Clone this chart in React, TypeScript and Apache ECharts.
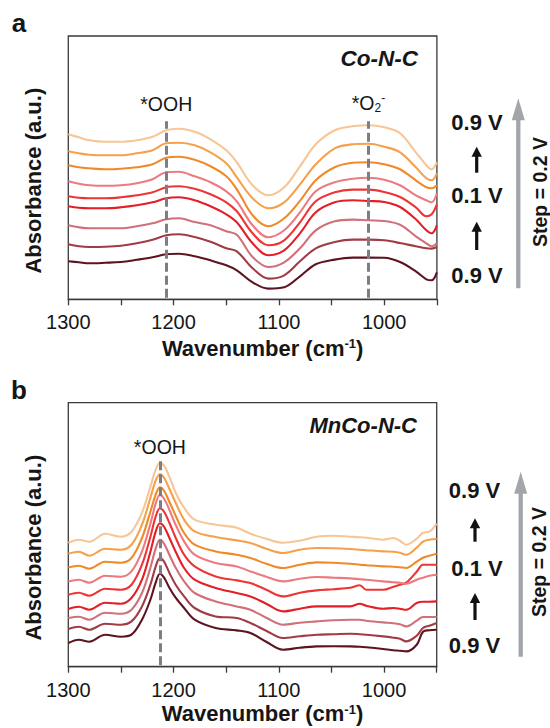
import React, { useEffect, useRef } from "react";
import * as echarts from "echarts";

const FONT = '"Liberation Sans", Arial, Helvetica, sans-serif';
const INK = "#161616";

// ---------- Panel a: Co-N-C ----------
const wavenumbersA = [1300, 1290, 1280, 1265, 1250, 1235, 1220, 1207, 1195, 1180, 1165, 1150, 1140, 1125, 1110, 1095, 1080, 1065, 1047, 1030, 1015, 1000, 985, 970, 960, 955, 950];
const coNC_0p9V_start = [38, 37, 36, 36.5, 37.3, 39.5, 42, 45, 45.5, 43, 39, 34, 29, 17, 10.7, 12, 23, 35, 39.7, 41.7, 41.7, 41.5, 37.3, 28, 20, 19, 27];
const coNC_0p7V_down = [55, 53, 52.3, 52.5, 53.5, 56, 59.5, 64, 65, 62.3, 57.5, 51, 48, 31, 20.7, 24, 38, 51, 57.3, 59.7, 59.7, 59, 56.3, 53, 51, 50.7, 52.3];
const coNC_0p5V_down = [74, 72, 71, 71, 71, 73, 76, 80, 81, 77.3, 74, 68, 64.5, 42.3, 32.3, 37, 51, 69, 78, 79.7, 79, 78.3, 74.5, 63, 56, 53, 56];
const coNC_0p3V_down = [93, 91.5, 91, 91, 92, 94, 97, 101, 102, 99, 93, 85, 77, 56, 44, 49, 66, 87, 97, 99, 98.3, 97.3, 92.3, 80, 69, 66, 74];
const coNC_0p1V = [103, 101.5, 101, 101, 102, 104, 107, 112, 113, 110.5, 105, 97, 88, 66, 54, 59, 77, 98, 107, 109.7, 109.7, 107.3, 102.3, 92, 83, 85, 95];
const coNC_0p3V_up = [118, 115.5, 114, 113.5, 114, 116, 120, 127, 127.5, 123, 117, 108, 98, 74, 62, 69, 87, 108, 117, 120.5, 121.5, 119.5, 114, 104, 99, 97, 106];
const coNC_0p5V_up = [134, 132, 131, 130, 130.5, 132, 135, 141.5, 142.5, 139.5, 133, 123, 110, 84, 73, 81, 98.5, 119, 132, 136.5, 137, 135, 130, 119, 112, 111, 114];
const coNC_0p7V_up = [148, 146, 144.5, 144, 144, 146, 149, 156, 156.5, 154, 147, 136, 122, 101, 91, 97, 115, 135, 151, 155, 155.5, 152.5, 147, 132, 121, 119, 126];
const coNC_0p9V_end = [165, 162, 159, 157.5, 157.5, 159, 162.5, 169, 170.5, 167.5, 160, 149, 137, 114, 104, 112, 133, 155, 169, 173, 174, 172, 166, 147, 134, 130, 137];
const peaksA = [
  { w: 1207, label: "*OOH" },
  { w: 1015, label: "*O{sub|2}{sup|-}" },
];

// ---------- Panel b: MnCo-N-C ----------
const wavenumbersB = [1300, 1290, 1280, 1265, 1250, 1240, 1230, 1222, 1217, 1213, 1209, 1204, 1198, 1190, 1180, 1160, 1140, 1127, 1112, 1096, 1080, 1064, 1048, 1032, 1023, 1017, 1001, 991, 985, 979, 969, 963, 957, 950];
const mnCoNC_0p9V_start = [23.7, 27, 25, 32, 30, 32, 47, 67, 84, 93, 89, 79, 69, 58.7, 47, 38.7, 36.3, 33.7, 25, 17, 19, 20.3, 20.5, 20.3, 20, 19.5, 17.7, 16.5, 16, 15.3, 22, 35, 36.5, 37];
const mnCoNC_0p7V_down = [37.7, 40, 37, 43, 42, 45.3, 60.3, 82, 100, 108.7, 105, 94, 82, 70.3, 58.7, 50.3, 48.7, 43.7, 36, 28.7, 30.5, 32, 32.5, 33, 32.5, 32, 30.3, 29, 28, 25.3, 31, 38.7, 41, 43.7];
const mnCoNC_0p5V_down = [48.7, 50, 47, 54, 53, 57, 73.7, 99, 118, 127, 123, 112, 99, 85.3, 73.7, 65.3, 60.3, 57, 49, 42, 44, 45.3, 46.5, 47, 47, 46, 44.3, 43.5, 42.5, 40.3, 46, 49.7, 49.7, 49.7];
const mnCoNC_0p3V_down = [57.7, 60, 57, 64, 63, 68.7, 87, 115, 135, 143.5, 140, 129, 115, 98.7, 87, 78.7, 73.7, 70.3, 63, 55.3, 58, 60.3, 60.3, 60.3, 63, 61, 58, 58.7, 58, 57, 63.7, 65, 65, 65.3];
const mnCoNC_0p1V = [72, 74, 71, 78, 77, 82, 102, 130, 150, 158.5, 155, 144, 129, 112, 100.3, 90.3, 86.3, 83.7, 77, 70.3, 74, 76.3, 77.5, 79, 81.5, 77, 77, 80, 82, 84, 95, 102, 102, 102];
const mnCoNC_0p3V_up = [85.3, 87, 84, 91, 90, 95.3, 115.3, 143, 163, 172, 168, 157, 142, 125.3, 112, 103.7, 100.3, 95.3, 90, 85.3, 88, 89.7, 89, 88.3, 87.5, 87, 85.3, 84.5, 84, 83, 87, 89, 91, 92];
const mnCoNC_0p5V_up = [99.3, 101, 98, 105, 104, 108.7, 128.7, 155, 172, 179.5, 176, 165, 151, 133.7, 122, 115.3, 112, 108.7, 103, 98.7, 102, 104.3, 104, 103, 102, 101.5, 100.3, 100, 99.5, 98.7, 105, 109, 111, 113];
const mnCoNC_0p7V_up = [113, 115, 111, 118, 117, 122, 142, 169, 186, 192.5, 189, 178, 164, 147, 135.3, 129.7, 126.3, 123.7, 118, 113.7, 117, 118.7, 118.5, 117.7, 117, 116.5, 115.3, 115, 114, 112, 119, 125, 127, 127.7];
const mnCoNC_0p9V_end = [124, 127, 125, 133, 130, 135, 154, 180, 197, 204, 201, 190, 174, 159, 147, 142, 139, 133, 128, 124, 126, 130, 131, 130, 129.5, 129, 127, 128.7, 126, 122, 128, 134, 135, 143];
const peaksB = [{ w: 1213, label: "*OOH" }];

// ---------- shared ----------
const potentials = ["0.9 V", "0.7 V", "0.5 V", "0.3 V", "0.1 V", "0.3 V", "0.5 V", "0.7 V", "0.9 V"];
const lineColors = ["#5c1420", "#a03c44", "#d07078", "#e41e26", "#ee3536", "#ec7a82", "#f08a28", "#f5a04a", "#f8c596"];
const xTickLabels = [1300, 1200, 1100, 1000];

const seriesA = [coNC_0p9V_start, coNC_0p7V_down, coNC_0p5V_down, coNC_0p3V_down, coNC_0p1V, coNC_0p3V_up, coNC_0p5V_up, coNC_0p7V_up, coNC_0p9V_end];
const seriesB = [mnCoNC_0p9V_start, mnCoNC_0p7V_down, mnCoNC_0p5V_down, mnCoNC_0p3V_down, mnCoNC_0p1V, mnCoNC_0p3V_up, mnCoNC_0p5V_up, mnCoNC_0p7V_up, mnCoNC_0p9V_end];

const labelRich = {
  sub: { fontSize: 12, fontFamily: FONT, color: INK, verticalAlign: "bottom", lineHeight: 22, padding: [6, 0, 0, 0] },
  sup: { fontSize: 12, fontFamily: FONT, color: INK, verticalAlign: "top", lineHeight: 22, padding: [0, 0, 8, 0] },
};

function arrow(x: number, yBase: number, yTip: number, shaftW: number, headLen: number, headHalf: number, color: string) {
  return {
    type: "group",
    children: [
      { type: "line", shape: { x1: x, y1: yBase, x2: x, y2: yTip + headLen - 1 }, style: { stroke: color, lineWidth: shaftW } },
      {
        type: "polygon",
        shape: { points: [[x, yTip], [x - headHalf, yTip + headLen], [x + headHalf, yTip + headLen]] },
        style: { fill: color },
      },
    ],
  };
}

function txt(text: string, x: number, y: number, size: number, opts: any = {}) {
  return {
    type: "text",
    x,
    y,
    rotation: opts.rotation || 0,
    style: {
      text,
      fill: INK,
      fontFamily: FONT,
      fontSize: size,
      fontWeight: opts.weight || "bold",
      fontStyle: opts.style || "normal",
      align: opts.align || "center",
      verticalAlign: "middle",
    },
  };
}

export default function App() {
  const ref = useRef<HTMLDivElement>(null);

  useEffect(() => {
    if (!ref.current) return;
    const chart = echarts.init(ref.current, undefined, { renderer: "svg" });

    const grids = [
      { left: 68.3, top: 36, width: 368.6, height: 263.3 },
      { left: 68.3, top: 402.7, width: 368.4, height: 264 },
    ];
    const yMax = [263.3, 264];

    const xAxes = grids.map((_, i) => ({
      type: "value",
      gridIndex: i,
      min: 950,
      max: 1300,
      interval: 50,
      inverse: true,
      axisLine: { show: true, onZero: false, lineStyle: { color: "#3a3a3a", width: 1.3 } },
      axisTick: { show: true, inside: false, length: 6, lineStyle: { color: "#3a3a3a", width: 1.3 } },
      axisLabel: {
        fontSize: 20,
        fontFamily: FONT,
        color: INK,
        margin: 13,
        formatter: (v: number) => (xTickLabels.indexOf(v) >= 0 ? String(v) : ""),
      },
      splitLine: { show: false },
      name: "Wavenumber (cm{sup|-1})",
      nameLocation: "middle",
      nameGap: i === 0 ? 38 : 36,
      nameTextStyle: {
        fontSize: 22,
        fontWeight: "bold",
        fontFamily: FONT,
        color: INK,
        lineHeight: 22,
        padding: [0, 0, 0, 20],
        rich: {
          sup: { fontSize: 13, fontWeight: "bold", fontFamily: FONT, color: INK, verticalAlign: "top", lineHeight: 22, padding: [0, 0, 7, 0] },
        },
      },
    }));

    const yAxes = grids.map((_, i) => ({
      type: "value",
      gridIndex: i,
      min: 0,
      max: yMax[i],
      axisLine: { show: false },
      axisTick: { show: false },
      axisLabel: { show: false },
      splitLine: { show: false },
      name: "Absorbance (a.u.)",
      nameLocation: "middle",
      nameGap: 24,
      nameRotate: 90,
      nameTextStyle: { fontSize: 22, fontWeight: "bold", fontFamily: FONT, color: INK, padding: [0, 26, 0, 0] },
    }));

    const mkSeries = (sets: number[][], ws: number[], idx: number, peaks: { w: number; label: string }[], dashTop: number) =>
      sets.map((vals, k) => ({
        type: "line",
        name: potentials[k],
        xAxisIndex: idx,
        yAxisIndex: idx,
        data: ws.map((w, j) => [w, vals[j]]),
        showSymbol: false,
        smooth: 0.35,
        lineStyle: { color: lineColors[k], width: 2.1 },
        z: 2 + k,
        markLine:
          k === sets.length - 1
            ? {
                silent: true,
                symbol: "none",
                z: 20,
                lineStyle: { color: "#7b7e85", width: 3, type: [9, 4] },
                label: {
                  show: true,
                  position: "end",
                  distance: idx === 0 ? 7 : 1,
                  fontSize: 19.5,
                  fontFamily: FONT,
                  color: INK,
                  formatter: (p: any) => (p.data && p.data.name ? p.data.name : ""),
                  rich: labelRich,
                },
                data: peaks.map((p) => [
                  { coord: [p.w, 1.5], name: p.label },
                  { coord: [p.w, dashTop], name: p.label },
                ]),
              }
            : undefined,
      }));

    const series = [
      ...mkSeries(seriesA, wavenumbersA, 0, peaksA, 178),
      ...mkSeries(seriesB, wavenumbersB, 1, peaksB, 208.5),
    ];

    const graphic = [
      txt("a", 19, 23, 26),
      txt("b", 19, 389.5, 26),
      txt("Co-N-C", 418, 58, 22.5, { style: "italic", align: "right" }),
      txt("MnCo-N-C", 417, 425, 22, { style: "italic", align: "right" }),
      // panel a potential labels
      txt("0.9 V", 477, 122, 22),
      arrow(476.7, 172.7, 146.7, 3.2, 10, 5.2, "#111"),
      txt("0.1 V", 477, 195.5, 22),
      arrow(476.7, 250, 221.7, 3.2, 10, 5.2, "#111"),
      txt("0.9 V", 477, 275, 22),
      arrow(518.3, 288.3, 98.3, 4.3, 22, 6.5, "#a2a6ab"),
      txt("Step = 0.2 V", 540, 192, 19.5, { rotation: Math.PI / 2 }),
      // panel b potential labels
      txt("0.9 V", 474.5, 490, 22),
      arrow(475, 541.7, 518.3, 3.2, 10, 5.2, "#111"),
      txt("0.1 V", 477, 568, 22),
      arrow(475, 620, 593, 3.2, 10, 5.2, "#111"),
      txt("0.9 V", 474.5, 645, 22),
      arrow(520.7, 656.7, 471.7, 4.3, 22, 6.5, "#a2a6ab"),
      txt("Step = 0.2 V", 539, 562, 19.5, { rotation: Math.PI / 2 }),
    ];

    chart.setOption({
      animation: false,
      backgroundColor: "#ffffff",
      textStyle: { fontFamily: FONT },
      grid: grids.map((g) => ({
        ...g,
        show: true,
        borderColor: "#3a3a3a",
        borderWidth: 1.3,
        backgroundColor: "transparent",
        containLabel: false,
        outerBoundsMode: "none",
      })),
      xAxis: xAxes,
      yAxis: yAxes,
      series,
      graphic,
    });

    return () => chart.dispose();
  }, []);

  return <div ref={ref} style={{ position: "absolute", left: 0, top: 0, width: 550, height: 728 }} />;
}
